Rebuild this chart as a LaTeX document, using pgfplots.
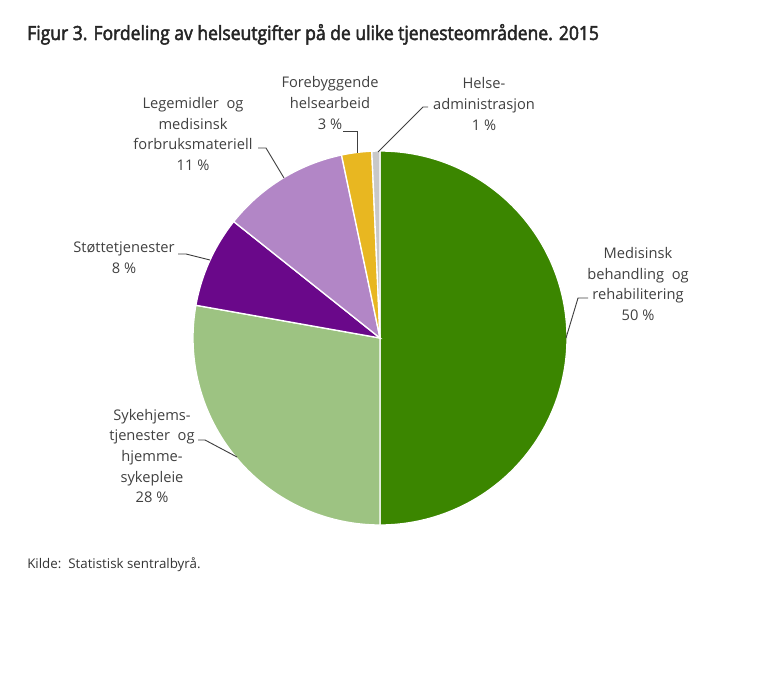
\documentclass[border=0pt]{standalone}
\usepackage{pgfplots}
\pgfplotsset{compat=1.18}
\usepackage{pgfplotstable}
\usepackage{fontspec}
\setmainfont{Open Sans}
\newfontfamily\titlefont{Open Sans}[FakeStretch=0.9,FakeBold=2.5]

\definecolor{cMed}{RGB}{59,134,0}
\definecolor{cSyk}{RGB}{157,195,130}
\definecolor{cSto}{RGB}{106,8,138}
\definecolor{cLeg}{RGB}{178,134,198}
\definecolor{cFor}{RGB}{232,183,33}
\definecolor{cAdm}{RGB}{200,200,200}
\definecolor{txt}{RGB}{64,64,64}

% share in percent, clockwise from 12 o'clock
\pgfplotstableread{
label value color
Medisinsk 50.0 cMed
Sykehjem 27.8 cSyk
Stotte 7.9 cSto
Legemidler 11.0 cLeg
Forebyggende 2.6 cFor
Admin 0.7 cAdm
}\piedata

\begin{document}
\begin{tikzpicture}
\begin{scope}[x=0.75pt,y=-0.75pt]
\path[use as bounding box] (0,0) rectangle (762,696);
\end{scope}

\begin{axis}[
    at={(285pt,-253.5pt)}, anchor=center,
    width=280.5pt, height=280.5pt, scale only axis,
    xmin=-1, xmax=1, ymin=-1, ymax=1,
    hide axis, clip=false,
]
\pgfplotstablegetrowsof{\piedata}
\pgfmathtruncatemacro\nrows{\pgfplotsretval-1}
\def\angA{90}
\pgfplotsforeachungrouped \i in {0,...,\nrows}{
    \pgfplotstablegetelem{\i}{value}\of\piedata \let\val\pgfplotsretval
    \pgfplotstablegetelem{\i}{color}\of\piedata \let\col\pgfplotsretval
    \pgfmathsetmacro\angB{\angA-3.6*\val}
    \edef\slice{\noexpand\fill[\col, draw=white, line width=1pt]
        (axis cs:0,0) -- (axis cs:{cos(\angA)},{sin(\angA)})
        arc[start angle=\angA, end angle=\angB, radius=140.25pt] -- cycle;}
    \slice
    \global\let\angA\angB
}
\end{axis}

\begin{scope}[x=0.75pt,y=-0.75pt,
    lab/.style={align=center, text=txt, inner sep=0pt,
        font={\fontsize{11}{15.5}\selectfont}},
    lead/.style={draw=txt, line width=0.7pt}]
\node[anchor=base west, text=black!85, inner sep=0pt,
    font={\titlefont\fontsize{14.6}{17}\selectfont}] at (27,40)
    {Figur 3. Fordeling av helseutgifter på de ulike tjenesteområdene. 2015};
\node[anchor=base west, text=black!80, inner sep=0pt,
    font={\fontsize{10}{12}\selectfont}] at (27,568)
    {Kilde:\ \ Statistisk sentralbyrå.};

\node[lab] at (638,284) {Medisinsk\\behandling\ \ og\\rehabilitering\\50 \%};
\node[lab] at (152,456) {Sykehjems-\\tjenester\ \ og\\hjemme-\\sykepleie\\28 \%};
\node[lab] at (124,258) {Støttetjenester\\8 \%};
\node[lab] at (193,134) {Legemidler\ \ og\\medisinsk\\forbruksmateriell\\11 \%};
\node[lab] at (330,103) {Forebyggende\\helsearbeid\\3 \%};
\node[lab] at (484,104) {Helse-\\administrasjon\\1 \%};

\draw[lead] (588,298) -- (578,298) -- (566,338);
\draw[lead] (198,440) -- (205,440) -- (237,457);
\draw[lead] (178,254) -- (186,254) -- (210,260);
\draw[lead] (258,148) -- (266,148) -- (284,178);
\draw[lead] (343,131) -- (357,131) -- (357,153);
\draw[lead] (428,107) -- (423,107) -- (378,152);
\end{scope}
\end{tikzpicture}
\end{document}
